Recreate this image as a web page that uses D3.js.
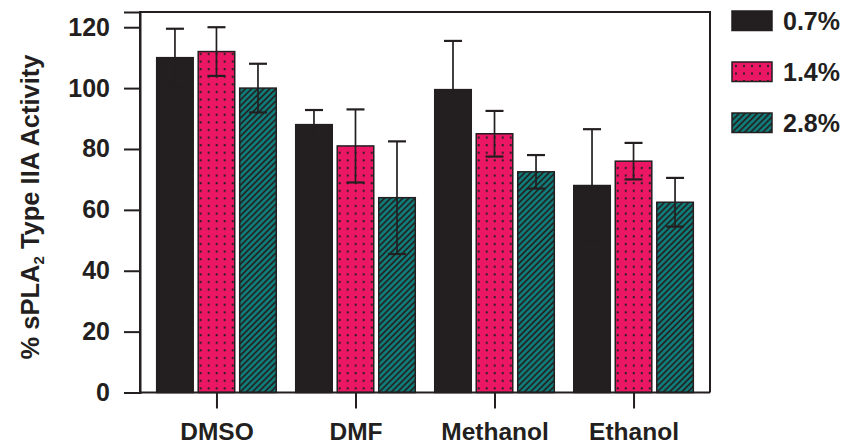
<!DOCTYPE html>
<meta charset="utf-8">
<style>
body{margin:0;background:#fff;}
text{font-family:"Liberation Sans",Arial,sans-serif;font-weight:bold;fill:#231f20;}
</style>
<body>
<svg width="847" height="446"></svg>
<script src="https://cdnjs.cloudflare.com/ajax/libs/d3/7.8.5/d3.min.js"></script>
<script>

var categories = ["DMSO","DMF","Methanol","Ethanol"];
var series = ["0.7%","1.4%","2.8%"];
var val07 = [110, 88, 99.5, 68];
var err07 = [9.5, 4.8, 16, 18.5];
var val14 = [112, 81, 85, 76];
var err14 = [8, 12, 7.5, 6];
var val28 = [100, 64, 72.5, 62.5];
var err28 = [8, 18.5, 5.5, 8];
var yTicks = [0,20,40,60,80,100,120];

var ink = "#231f20";
var margin = {top: 12, right: 137, bottom: 53.5, left: 140},
    width = 847 - margin.left - margin.right,
    height = 446 - margin.top - margin.bottom;

var vals = [val07, val14, val28], errs = [err07, err14, err28];
var data = categories.map((c,i)=>({cat:c, bars: series.map((s,j)=>({s:s, j:j, v:vals[j][i], e:errs[j][i]}))}));

var svg = d3.select('svg');
var defs = svg.append('defs');

// dotted pink
var pd = defs.append('pattern').attr('id','dots').attr('patternUnits','userSpaceOnUse')
	.attr('width',8).attr('height',7.6);
pd.append('rect').attr('width',8).attr('height',7.6).attr('fill','#ec1764');
pd.append('rect').attr('x',3).attr('y',3).attr('width',2).attr('height',2).attr('fill',ink);

// hatched teal
var ph = defs.append('pattern').attr('id','hatch').attr('patternUnits','userSpaceOnUse')
	.attr('width',4.3).attr('height',4.3).attr('patternTransform','rotate(45)');
ph.append('rect').attr('width',4.3).attr('height',4.3).attr('fill','#0f7f7b');
ph.append('line').attr('x1',1).attr('x2',1).attr('y1',0).attr('y2',4.3)
	.attr('stroke',ink).attr('stroke-width',1.7);

var fills = [ink, "url(#dots)", "url(#hatch)"];

var g = svg.append('g').attr('transform','translate('+margin.left+','+margin.top+')');

var x0 = d3.scaleBand().domain(categories).range([0,width]).paddingInner(0.14).paddingOuter(0.12);
var x1 = d3.scaleBand().domain(series).range([0,x0.bandwidth()]).paddingInner(0.12);
var y = d3.scaleLinear().domain([0,125]).range([height,0]);

// bars
var grp = g.selectAll('.grp').data(data).enter().append('g')
	.attr('transform',d=>'translate('+x0(d.cat)+',0)');

grp.selectAll('rect').data(d=>d.bars).enter().append('rect')
	.attr('x',d=>x1(d.s)).attr('y',d=>y(d.v))
	.attr('width',x1.bandwidth()).attr('height',d=>height-y(d.v))
	.attr('fill',d=>fills[d.j]).attr('stroke',ink).attr('stroke-width',1.5);

// error bars
var eb = grp.selectAll('.err').data(d=>d.bars).enter().append('g')
	.attr('transform',d=>'translate('+(x1(d.s)+x1.bandwidth()/2)+',0)');
eb.append('line').attr('y1',d=>y(d.v+d.e)).attr('y2',d=>y(d.v-d.e))
	.attr('stroke',ink).attr('stroke-width',1.7);
eb.selectAll('.cap').data(d=>[d.v+d.e,d.v-d.e]).enter().append('line')
	.attr('x1',-9).attr('x2',9).attr('y1',d=>y(d)).attr('y2',d=>y(d))
	.attr('stroke',ink).attr('stroke-width',2.2);

// frame
g.append('path').attr('d','M0,'+height+'V0H'+width+'V'+height)
	.attr('fill','none').attr('stroke',ink).attr('stroke-width',2);

// y axis
var ya = g.append('g').call(d3.axisLeft(y).tickValues(yTicks).tickSize(16).tickPadding(14));
ya.select('.domain').attr('stroke',ink).attr('stroke-width',2);
ya.selectAll('.tick line').attr('stroke',ink).attr('stroke-width',2);
ya.selectAll('.tick text').attr('font-size',25).attr('font-family',null).attr('fill',ink);

// x axis
var xc = d3.scalePoint().domain(categories).range([x0(categories[0])+x0.bandwidth()/2, x0(categories[3])+x0.bandwidth()/2]);
var xa = g.append('g').attr('transform','translate(0,'+height+')')
	.call(d3.axisBottom(xc).tickSize(16).tickPadding(14));
xa.select('.domain').attr('stroke',ink).attr('stroke-width',2).attr('d','M0,0H'+width);
xa.selectAll('.tick line').attr('stroke',ink).attr('stroke-width',2);
xa.selectAll('.tick text').attr('font-size',24.5).attr('font-family',null).attr('fill',ink);

// y title
var yt = svg.append('text').attr('transform','translate(39,207) rotate(-90)')
	.attr('text-anchor','middle').attr('font-size',25.5);
yt.append('tspan').text('% sPLA');
yt.append('tspan').attr('font-size',15).attr('dy',5).text('2');
yt.append('tspan').attr('dy',-5).text(' Type IIA Activity');

// legend
var lg = svg.append('g').attr('transform','translate(732,11)');
var li = lg.selectAll('.li').data(series).enter().append('g')
	.attr('transform',(d,i)=>'translate(0,'+(i*51)+')');
li.append('rect').attr('width',40).attr('height',19.5)
	.attr('fill',(d,i)=>fills[i]).attr('stroke',ink).attr('stroke-width',1.5);
li.append('text').attr('x',51).attr('y',19).attr('font-size',25).text(d=>d);

</script>
